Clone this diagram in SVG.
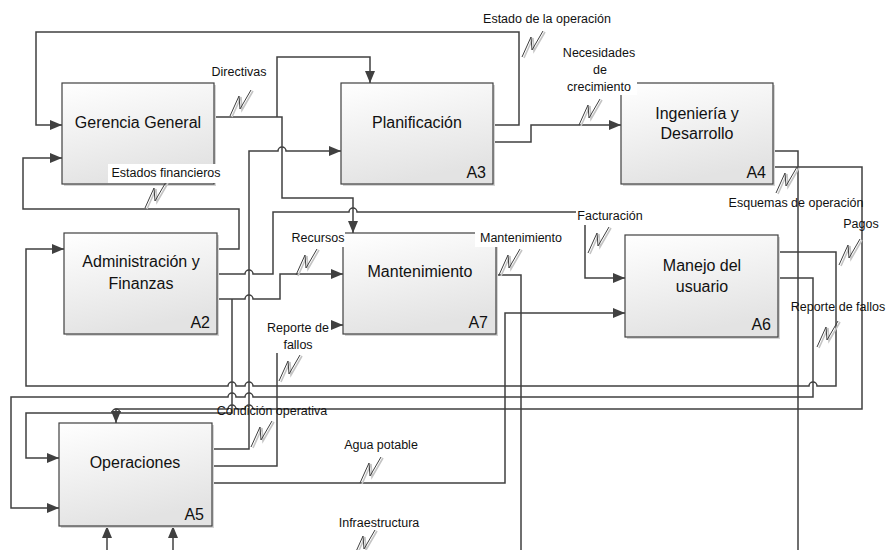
<svg xmlns="http://www.w3.org/2000/svg" xmlns:xlink="http://www.w3.org/1999/xlink" width="888" height="550" viewBox="0 0 888 550">
<style>
.box{fill:url(#g);stroke:#404040;stroke-width:1.2}
.sh{fill:#d4d4d4}
.t{font-family:"Liberation Sans",Arial,sans-serif;font-size:16px;fill:#111;text-anchor:middle}
.a{font-family:"Liberation Sans",Arial,sans-serif;font-size:16px;fill:#111;text-anchor:end}
.l{font-family:"Liberation Sans",Arial,sans-serif;font-size:12.5px;fill:#111;text-anchor:middle}
.c{fill:none;stroke:#404040;stroke-width:1.5}
.ar{marker-end:url(#arr)}
.bg{fill:#fff}
</style>
<defs>
<linearGradient id="g" x1="0" y1="0" x2="0.3" y2="1">
<stop offset="0" stop-color="#ffffff"/>
<stop offset="1" stop-color="#e3e3e3"/>
</linearGradient>
<marker id="arr" viewBox="0 0 12 10" refX="12" refY="5" markerWidth="12" markerHeight="10" markerUnits="userSpaceOnUse" orient="auto">
<path d="M0,0 L12,5 L0,10 z" fill="#404040"/>
</marker>
<g id="sq">
<path d="M-10,13 L-1,-7 L0,6 L11,-13" fill="none" stroke="#c4c4c4" stroke-width="1.6" transform="translate(2,1)"/>
<path d="M-10,13 L-1,-7 L0,6 L11,-13" fill="none" stroke="#404040" stroke-width="1"/>
</g>
</defs>

<g id="connectors">
<path class="c ar" d="M493,125 H519 V32 H36 V125 H62"/>
<path class="c ar" d="M214,117 H282 V198 H353 V233"/>
<path class="c ar" d="M277,117 V57 H370 V83"/>
<path class="c ar" d="M217,249 H239 V209 H23 V158 H62"/>
<path class="c ar" d="M212,449 H249 V151 H278 A4,4 0 0 1 286,151 H341"/>
<path class="c ar" d="M217,274 H245 A4,4 0 0 1 253,274 H273 V212 H349 A4,4 0 0 1 357,212 H585 V278 H625"/>
<path class="c ar" d="M217,299 H245 A4,4 0 0 1 253,299 H280 V274 H343"/>
<path class="c ar" d="M232,299 V413 H120 A4,4 0 0 0 112,413 H26 V458 H59"/>
<path class="c ar" d="M778,252 H836 V386 H817 A4,4 0 0 0 809,386 H253 A4,4 0 0 0 245,386 H236 A4,4 0 0 0 228,386 H26 V249 H64"/>
<path class="c ar" d="M778,278 H813 V397 H253 A4,4 0 0 0 245,397 H236 A4,4 0 0 0 228,397 H11 V508 H59"/>
<path class="c ar" d="M773,167 H862 V409 H253 A4,4 0 0 0 245,409 H236 A4,4 0 0 0 228,409 H116 V423"/>
<path class="c" d="M773,151 H798 V550"/>
<path class="c ar" d="M493,142 H531 V125 H621"/>
<path class="c" d="M496,275 H521 V550"/>
<path class="c ar" d="M212,483 H505 V313 H625"/>
<path class="c ar" d="M212,466 H277 V325 H343"/>
<path class="c ar" d="M107,550 V526"/>
<path class="c ar" d="M173,550 V526"/>
</g>

<g id="A1">
<rect class="sh" x="64" y="85" width="152" height="101"/>
<rect class="box" x="62" y="83" width="152" height="101"/>
<text class="t" x="138" y="128">Gerencia General</text>
</g>
<g id="A3">
<rect class="sh" x="343" y="85" width="152" height="101"/>
<rect class="box" x="341" y="83" width="152" height="101"/>
<text class="t" x="417" y="128">Planificación</text>
<text class="a" x="486" y="178">A3</text>
</g>
<g id="A4">
<rect class="sh" x="623" y="85" width="152" height="101"/>
<rect class="box" x="621" y="83" width="152" height="101"/>
<text class="t" x="697" y="119">Ingeniería y</text>
<text class="t" x="697" y="139">Desarrollo</text>
<text class="a" x="766" y="178">A4</text>
</g>
<g id="A2">
<rect class="sh" x="66" y="235" width="153" height="101"/>
<rect class="box" x="64" y="233" width="153" height="101"/>
<text class="t" x="141" y="267">Administración y</text>
<text class="t" x="141" y="289">Finanzas</text>
<text class="a" x="210" y="328">A2</text>
</g>
<g id="A7">
<rect class="sh" x="345" y="235" width="153" height="101"/>
<rect class="box" x="343" y="233" width="153" height="101"/>
<text class="t" x="420" y="277">Mantenimiento</text>
<text class="a" x="488" y="328">A7</text>
</g>
<g id="A6">
<rect class="sh" x="627" y="237" width="153" height="102"/>
<rect class="box" x="625" y="235" width="153" height="102"/>
<text class="t" x="702" y="271">Manejo del</text>
<text class="t" x="702" y="292">usuario</text>
<text class="a" x="771" y="330">A6</text>
</g>
<g id="A5">
<rect class="sh" x="61" y="425" width="153" height="103"/>
<rect class="box" x="59" y="423" width="153" height="103"/>
<text class="t" x="135" y="468">Operaciones</text>
<text class="a" x="204" y="520">A5</text>
</g>

<g id="labels">
<use xlink:href="#sq" href="#sq" x="240" y="103"/>
<use xlink:href="#sq" href="#sq" x="532" y="44"/>
<use xlink:href="#sq" href="#sq" x="589" y="112"/>
<use xlink:href="#sq" href="#sq" x="155" y="195"/>
<use xlink:href="#sq" href="#sq" x="306" y="262"/>
<use xlink:href="#sq" href="#sq" x="509" y="262"/>
<use xlink:href="#sq" href="#sq" x="598" y="240"/>
<use xlink:href="#sq" href="#sq" x="849" y="252"/>
<use xlink:href="#sq" href="#sq" x="827" y="334"/>
<use xlink:href="#sq" href="#sq" x="786" y="180"/>
<use xlink:href="#sq" href="#sq" x="289" y="368"/>
<use xlink:href="#sq" href="#sq" x="261" y="434"/>
<use xlink:href="#sq" href="#sq" x="370" y="470"/>
<use xlink:href="#sq" href="#sq" x="364" y="543"/>

<text class="l" x="547" y="23">Estado de la operación</text>
<rect class="bg" x="562" y="45" width="75" height="50"/>
<text class="l" x="599" y="57">Necesidades</text>
<text class="l" x="600" y="74">de</text>
<text class="l" x="599" y="91">crecimiento</text>
<text class="l" x="239" y="76">Directivas</text>
<rect class="bg" x="108" y="164" width="116" height="19"/>
<text class="l" x="166" y="177">Estados financieros</text>
<rect class="bg" x="292" y="231" width="53" height="16"/>
<text class="l" x="318" y="242">Recursos</text>
<rect class="bg" x="475" y="231" width="93" height="16"/>
<text class="l" x="521" y="242">Mantenimiento</text>
<rect class="bg" x="576" y="207" width="69" height="18"/>
<text class="l" x="610" y="220">Facturación</text>
<text class="l" x="796" y="207">Esquemas de operación</text>
<text class="l" x="861" y="228">Pagos</text>
<text class="l" x="838" y="311">Reporte de fallos</text>
<rect class="bg" x="264" y="319" width="67" height="34"/>
<text class="l" x="298" y="332">Reporte de</text>
<text class="l" x="298" y="349">fallos</text>
<text class="l" x="272" y="415">Condición operativa</text>
<text class="l" x="381" y="449">Agua potable</text>
<text class="l" x="379" y="527">Infraestructura</text>
</g>
</svg>
